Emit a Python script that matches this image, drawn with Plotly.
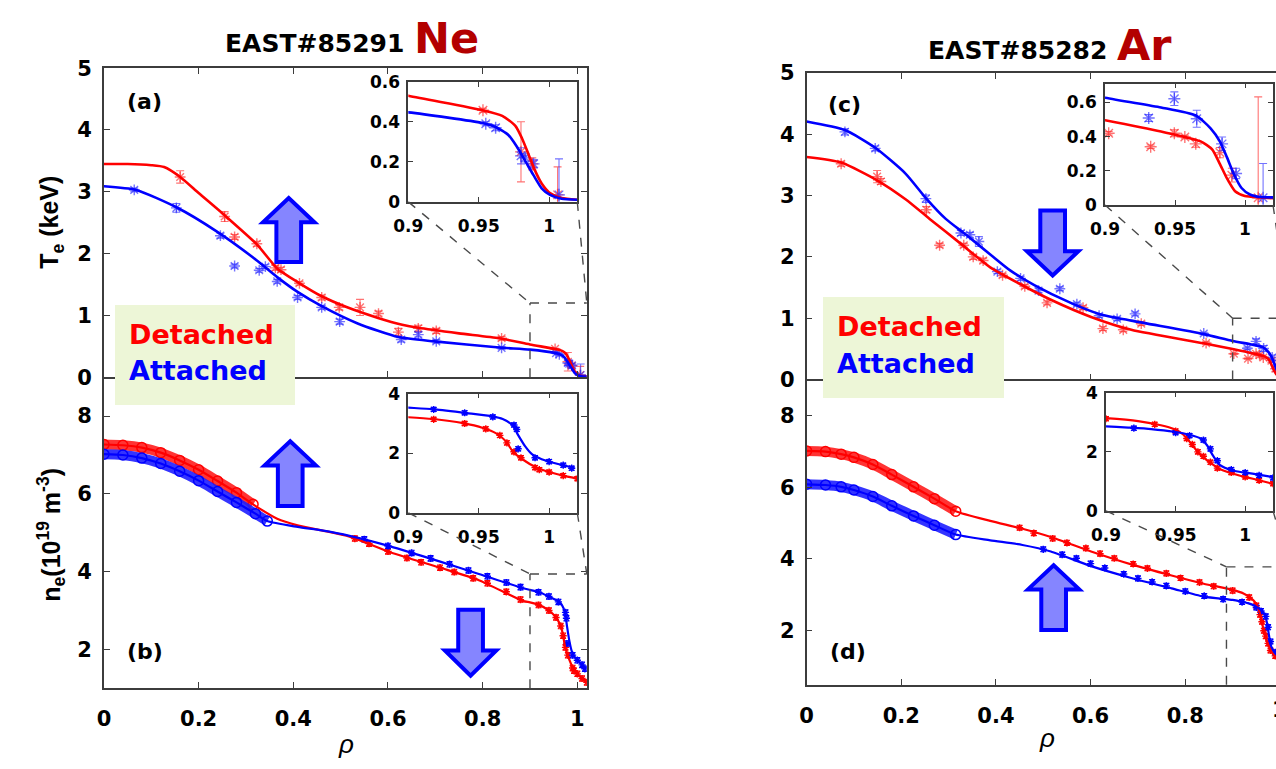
import plotly.graph_objects as go

# ---------------------------------------------------------------------------
# Profile data (rho = normalised minor radius)
# ---------------------------------------------------------------------------
# EAST#85291 (Ne seeding) -- electron temperature, keV
te_ne_fit_det_rho = [0, 0.05, 0.1, 0.127, 0.161, 0.2, 0.255, 0.323, 0.366, 0.409, 0.46, 0.511, 0.579, 0.63,
                     0.664, 0.75, 0.835, 0.9, 0.9526, 0.9667, 0.976, 0.9807, 0.9854, 0.99, 0.9947, 1.0006,
                     1.0088, 1.02]
te_ne_fit_det = [3.45, 3.45, 3.43, 3.40, 3.24, 2.98, 2.62, 2.15, 1.76, 1.54, 1.31, 1.14, 0.96, 0.85,
                 0.80, 0.71, 0.63, 0.53, 0.458, 0.43, 0.38, 0.318, 0.237, 0.156, 0.092, 0.044, 0.019, 0.011]
te_ne_fit_att_rho = [0, 0.068, 0.153, 0.238, 0.323, 0.366, 0.409, 0.46, 0.536, 0.622, 0.698, 0.835, 0.9,
                     0.9526, 0.962, 0.971, 0.977, 0.983, 0.989, 0.9947, 1.0006, 1.0088, 1.02]
te_ne_fit_att = [3.09, 3.03, 2.75, 2.36, 1.89, 1.62, 1.38, 1.15, 0.87, 0.65, 0.58, 0.48, 0.447, 0.394,
                 0.374, 0.334, 0.277, 0.205, 0.132, 0.068, 0.035, 0.016, 0.011]
te_ne_det_rho = [0.161, 0.255, 0.276, 0.323, 0.362, 0.374, 0.413, 0.46, 0.497, 0.541, 0.58, 0.622, 0.664,
                 0.702, 0.84, 0.953, 0.98, 0.988, 1.006]
te_ne_det = [3.24, 2.60, 2.27, 2.16, 1.77, 1.74, 1.52, 1.29, 1.13, 1.13, 1.03, 0.73, 0.79, 0.75, 0.63,
             0.458, 0.25, 0.19, 0.035]
te_ne_det_err = [0.10, 0.08, 0.04, 0.04, 0.04, 0.04, 0.03, 0.04, 0.04, 0.13, 0.04, 0.06, 0.05, 0.04,
                 0.03, 0.01, 0.15, 0.03, 0.14]
te_ne_att_rho = [0.064, 0.153, 0.246, 0.276, 0.328, 0.341, 0.366, 0.409, 0.46, 0.498, 0.628, 0.664, 0.702,
                 0.84, 0.955, 0.962, 0.98, 0.983, 0.989, 1.007]
te_ne_att = [3.03, 2.74, 2.29, 1.80, 1.73, 1.79, 1.55, 1.29, 1.13, 0.90, 0.61, 0.69, 0.58, 0.475, 0.39,
             0.37, 0.23, 0.22, 0.19, 0.035]
te_ne_att_err = [0.03, 0.07, 0.04, 0.03, 0.03, 0.03, 0.03, 0.03, 0.03, 0.04, 0.04, 0.04, 0.03, 0.02,
                 0.01, 0.015, 0.04, 0.02, 0.02, 0.18]

# EAST#85291 (Ne seeding) -- electron density, 1e19 m^-3
ne_ne_core_rho = [0, 0.04, 0.08, 0.12, 0.16, 0.2, 0.24, 0.28, 0.315]
ne_ne_core_det = [7.27, 7.25, 7.19, 7.06, 6.86, 6.62, 6.33, 6.03, 5.73]
ne_ne_core_att_rho = [0, 0.04, 0.08, 0.12, 0.16, 0.2, 0.24, 0.28, 0.32, 0.345]
ne_ne_core_att = [7.02, 7.00, 6.92, 6.78, 6.58, 6.34, 6.06, 5.78, 5.49, 5.30]
ne_ne_fit_det_rho = [0, 0.04, 0.08, 0.12, 0.16, 0.2, 0.24, 0.28, 0.315, 0.366, 0.409, 0.46, 0.519, 0.605,
                     0.707, 0.792, 0.886, 0.9, 0.9176, 0.9389, 0.953, 0.9624, 0.9694, 0.974, 0.981,
                     0.9906, 1.0, 1.0093, 1.0199]
ne_ne_fit_det = [7.27, 7.25, 7.19, 7.06, 6.86, 6.62, 6.33, 6.03, 5.73, 5.36, 5.19, 5.06, 4.90, 4.50,
                 4.11, 3.78, 3.24, 3.21, 3.15, 3.01, 2.85, 2.67, 2.40, 2.07, 1.80, 1.53, 1.37, 1.26, 1.15]
ne_ne_fit_att_rho = [0, 0.04, 0.08, 0.12, 0.16, 0.2, 0.24, 0.28, 0.32, 0.345, 0.409, 0.46, 0.519, 0.605,
                     0.707, 0.792, 0.886, 0.9, 0.9176, 0.941, 0.9597, 0.967, 0.974, 0.978, 0.983, 0.988,
                     0.9947, 1.0063, 1.018]
ne_ne_fit_att = [7.02, 7.00, 6.92, 6.78, 6.58, 6.34, 6.06, 5.78, 5.49, 5.30, 5.15, 5.06, 4.92, 4.65,
                 4.27, 3.94, 3.57, 3.53, 3.48, 3.35, 3.24, 3.15, 2.94, 2.61, 2.23, 1.96, 1.80, 1.64, 1.51]
ne_ne_det_rho = [0.53, 0.56, 0.6, 0.64, 0.67, 0.71, 0.74, 0.78, 0.81, 0.85, 0.88, 0.918, 0.94, 0.955,
                 0.965, 0.97, 0.975, 0.98, 0.99, 0.993, 1.0, 1.01, 1.02]
ne_ne_det = [4.85, 4.72, 4.52, 4.35, 4.24, 4.10, 3.99, 3.83, 3.70, 3.48, 3.28, 3.14, 3.00, 2.82, 2.60,
             2.35, 2.05, 1.85, 1.52, 1.45, 1.37, 1.25, 1.15]
ne_ne_att_rho = [0.55, 0.6, 0.65, 0.69, 0.73, 0.77, 0.81, 0.85, 0.88, 0.918, 0.94, 0.96, 0.975, 0.977,
                 0.978, 0.99, 1.0, 1.01, 1.016]
ne_ne_att = [4.83, 4.66, 4.48, 4.34, 4.19, 4.03, 3.88, 3.72, 3.60, 3.47, 3.36, 3.22, 2.95, 2.80, 2.15,
             1.85, 1.72, 1.60, 1.50]

# EAST#85282 (Ar seeding) -- electron temperature, keV
te_ar_fit_det_rho = [0, 0.073, 0.149, 0.209, 0.26, 0.328, 0.388, 0.448, 0.516, 0.601, 0.686, 0.839, 0.9,
                     0.94, 0.9683, 0.9765, 0.982, 0.9871, 0.9929, 0.9999, 1.011, 1.02]
te_ar_fit_det = [3.63, 3.54, 3.25, 2.94, 2.62, 2.20, 1.83, 1.57, 1.30, 1.02, 0.81, 0.59, 0.496, 0.43,
                 0.373, 0.326, 0.241, 0.156, 0.081, 0.053, 0.045, 0.04]
te_ar_fit_att_rho = [0, 0.081, 0.145, 0.209, 0.252, 0.294, 0.337, 0.388, 0.43, 0.481, 0.558, 0.618, 0.686,
                     0.839, 0.9, 0.94, 0.9648, 0.9754, 0.982, 0.9871, 0.9918, 0.9975, 1.0035, 1.011, 1.02]
te_ar_fit_att = [4.21, 4.07, 3.78, 3.36, 2.96, 2.62, 2.36, 2.04, 1.78, 1.54, 1.25, 1.07, 0.96, 0.74,
                 0.628, 0.571, 0.524, 0.449, 0.373, 0.279, 0.185, 0.10, 0.062, 0.047, 0.045]
te_ar_det_rho = [0.073, 0.149, 0.157, 0.253, 0.281, 0.332, 0.352, 0.373, 0.414, 0.461, 0.508, 0.584,
                 0.626, 0.669, 0.707, 0.844, 0.9026, 0.9326, 0.9495, 0.957, 0.9648, 0.982, 0.9906, 1.0094]
te_ar_det = [3.52, 3.31, 3.23, 2.77, 2.19, 2.19, 2.00, 1.94, 1.70, 1.52, 1.25, 1.17, 0.83, 0.81, 0.91,
             0.594, 0.42, 0.341, 0.42, 0.398, 0.358, 0.307, 0.175, 0.043]
te_ar_det_err = [0.04, 0.10, 0.05, 0.05, 0.03, 0.03, 0.04, 0.04, 0.03, 0.03, 0.03, 0.03, 0.03, 0.03,
                 0.03, 0.02, 0.01, 0.01, 0.02, 0.01, 0.02, 0.03, 0.04, 0.59]
te_ar_att_rho = [0.081, 0.145, 0.252, 0.326, 0.345, 0.364, 0.403, 0.452, 0.49, 0.535, 0.571, 0.618,
                 0.656, 0.694, 0.839, 0.9312, 0.9495, 0.9655, 0.9836, 0.9936, 1.0129]
te_ar_att = [4.04, 3.77, 2.95, 2.39, 2.36, 2.25, 1.76, 1.65, 1.45, 1.48, 1.23, 1.04, 0.99, 1.07, 0.75,
             0.509, 0.622, 0.505, 0.358, 0.185, 0.043]
te_ar_att_err = [0.05, 0.04, 0.06, 0.04, 0.04, 0.08, 0.03, 0.03, 0.03, 0.03, 0.03, 0.03, 0.03, 0.03,
                 0.02, 0.02, 0.04, 0.05, 0.04, 0.03, 0.20]

# EAST#85282 (Ar seeding) -- electron density, 1e19 m^-3
ne_ar_core_rho = [0, 0.04, 0.073, 0.1, 0.14, 0.18, 0.226, 0.27, 0.315]
ne_ar_core_det = [7.01, 6.99, 6.92, 6.83, 6.63, 6.35, 6.01, 5.68, 5.33]
ne_ar_core_att = [6.08, 6.06, 6.01, 5.92, 5.74, 5.48, 5.20, 4.94, 4.68]
ne_ar_fit_det_rho = [0, 0.04, 0.073, 0.1, 0.14, 0.18, 0.226, 0.27, 0.315, 0.388, 0.456, 0.516, 0.601,
                     0.686, 0.771, 0.839, 0.9, 0.923, 0.9394, 0.9488, 0.9559, 0.9618, 0.9676, 0.9746,
                     0.9817, 0.9958, 1.0099, 1.019]
ne_ar_fit_det = [7.01, 6.99, 6.92, 6.83, 6.63, 6.35, 6.01, 5.68, 5.33, 5.06, 4.84, 4.61, 4.21, 3.85,
                 3.54, 3.31, 3.14, 3.04, 2.90, 2.77, 2.57, 2.24, 1.91, 1.64, 1.42, 1.20, 1.04, 0.93]
ne_ar_fit_att_rho = [0, 0.04, 0.073, 0.1, 0.14, 0.18, 0.226, 0.27, 0.315, 0.388, 0.456, 0.516, 0.601,
                     0.686, 0.771, 0.839, 0.9, 0.916, 0.9324, 0.9488, 0.9606, 0.9676, 0.9723, 0.977,
                     0.9817, 0.9911, 1.0052, 1.019]
ne_ar_fit_att = [6.08, 6.06, 6.01, 5.92, 5.74, 5.48, 5.20, 4.94, 4.68, 4.52, 4.39, 4.21, 3.80, 3.47,
                 3.18, 2.95, 2.86, 2.82, 2.77, 2.68, 2.57, 2.46, 2.24, 1.86, 1.56, 1.37, 1.26, 1.15]
ne_ar_det_rho = [0.45, 0.48, 0.52, 0.55, 0.59, 0.62, 0.65, 0.69, 0.72, 0.76, 0.79, 0.83, 0.86, 0.9,
                 0.935, 0.95, 0.958, 0.962, 0.966, 0.97, 0.975, 0.98, 0.99, 1.0, 1.01, 1.02]
ne_ar_det = [4.87, 4.72, 4.57, 4.45, 4.30, 4.15, 4.02, 3.86, 3.74, 3.60, 3.47, 3.35, 3.24, 3.12, 2.93,
             2.70, 2.45, 2.25, 2.00, 1.85, 1.65, 1.45, 1.30, 1.15, 1.03, 0.92]
ne_ar_att_rho = [0.5, 0.54, 0.57, 0.6, 0.63, 0.67, 0.7, 0.73, 0.76, 0.8, 0.84, 0.88, 0.92, 0.95, 0.96,
                 0.97, 0.975, 0.98, 0.99, 1.0, 1.01, 1.02]
ne_ar_att = [4.27, 4.12, 4.02, 3.87, 3.75, 3.58, 3.46, 3.36, 3.25, 3.10, 2.97, 2.88, 2.80, 2.65, 2.55,
             2.40, 2.10, 1.70, 1.40, 1.30, 1.20, 1.12]

# ---------------------------------------------------------------------------
# Page geometry (pixels of a 1276 x 769 canvas)
# ---------------------------------------------------------------------------
W, H = 1276, 769
RED, BLUE = "#ff0000", "#0000ff"
RED_PT, BLUE_PT = "rgba(255,40,40,0.65)", "rgba(40,40,255,0.65)"
AXC = "#3c3c3c"
BOLD = dict(family="DejaVu Sans", weight="bold", color="black")

# panel boxes: (left, right, top, bottom) in px, and their axis ranges
PANELS = {
    "a": dict(box=(90, 578.6, 58, 377), xr=[0, 1.02], yr=[0, 5]),
    "b": dict(box=(90, 578.6, 377, 698), xr=[0, 1.02], yr=[1, 9]),
    "c": dict(box=(801, 1276, 63, 379.3), xr=[0, 475 / 479], yr=[0, 5]),
    "d": dict(box=(801, 1276, 379.3, 694.3), xr=[0, 475 / 479], yr=[0.5, 9]),
    "ia": dict(box=(398, 569, 72, 196), xr=[0.9, 1.02], yr=[0, 0.6]),
    "ib": dict(box=(398, 569, 394, 517), xr=[0.9, 1.02], yr=[0, 4]),
    "ic": dict(box=(1103, 1273, 74, 199.3), xr=[0.9, 1.02], yr=[0, 0.71]),
    "id": dict(box=(1104, 1273, 393, 515), xr=[0.9, 1.02], yr=[0, 4]),
}
AXIS_ID = {"a": 1, "b": 2, "c": 3, "d": 4, "ia": 5, "ib": 6, "ic": 7, "id": 8}


def px_to_paper(px, py):
    return px / W, 1 - py / H


def data_to_paper(key, xv, yv):
    l, r, t, b = PANELS[key]["box"]
    xr, yr = PANELS[key]["xr"], PANELS[key]["yr"]
    px = l + (xv - xr[0]) / (xr[1] - xr[0]) * (r - l)
    py = b - (yv - yr[0]) / (yr[1] - yr[0]) * (b - t)
    return px_to_paper(px, py)


def refs(key):
    i = AXIS_ID[key]
    return ("x" if i == 1 else f"x{i}"), ("y" if i == 1 else f"y{i}")


fig = go.Figure()


def add_fit(key, rho, val, color, width=2.6):
    xa, ya = refs(key)
    fig.add_trace(go.Scatter(x=rho, y=val, mode="lines", xaxis=xa, yaxis=ya,
                             line=dict(color=color, width=width, shape="spline", smoothing=0.6),
                             hoverinfo="skip", showlegend=False))


def add_points(key, rho, val, err, color, size=9, cap=4):
    xa, ya = refs(key)
    fig.add_trace(go.Scatter(x=rho, y=val, mode="markers", xaxis=xa, yaxis=ya,
                             marker=dict(symbol="asterisk-open", size=size, color=color,
                                         line=dict(color=color, width=1.4)),
                             error_y=dict(type="data", array=err, visible=True, color=color,
                                          thickness=1.1, width=cap),
                             hoverinfo="skip", showlegend=False))


def add_core(key, rho, val, color, band):
    xa, ya = refs(key)
    fig.add_trace(go.Scatter(x=rho, y=val, mode="lines+markers", xaxis=xa, yaxis=ya,
                             line=dict(color=band, width=10, shape="spline"),
                             marker=dict(symbol="circle-open", size=10, color=color,
                                         line=dict(color=color, width=1.5)),
                             hoverinfo="skip", showlegend=False))


# Te panels and their edge insets
for key in ("a", "ia"):
    size = 9 if key == "a" else 10
    add_points(key, te_ne_det_rho, te_ne_det, te_ne_det_err, RED_PT, size)
    add_points(key, te_ne_att_rho, te_ne_att, te_ne_att_err, BLUE_PT, size)
    add_fit(key, te_ne_fit_det_rho, te_ne_fit_det, RED)
    add_fit(key, te_ne_fit_att_rho, te_ne_fit_att, BLUE)

for key in ("c", "ic"):
    size = 9 if key == "c" else 10
    add_points(key, te_ar_det_rho, te_ar_det, te_ar_det_err, RED_PT, size)
    add_points(key, te_ar_att_rho, te_ar_att, te_ar_att_err, BLUE_PT, size)
    add_fit(key, te_ar_fit_det_rho, te_ar_fit_det, RED)
    add_fit(key, te_ar_fit_att_rho, te_ar_fit_att, BLUE)

# density panels and insets
ne_err = 0.07
for key in ("b", "ib"):
    if key == "b":
        add_core(key, ne_ne_core_rho, ne_ne_core_det, RED, "rgba(255,30,30,0.9)")
        add_core(key, ne_ne_core_att_rho, ne_ne_core_att, BLUE, "rgba(30,30,255,0.9)")
    add_points(key, ne_ne_det_rho, ne_ne_det, [ne_err] * len(ne_ne_det), RED, 6, 3)
    add_points(key, ne_ne_att_rho, ne_ne_att, [ne_err] * len(ne_ne_att), BLUE, 6, 3)
    add_fit(key, ne_ne_fit_det_rho, ne_ne_fit_det, RED, 2.2)
    add_fit(key, ne_ne_fit_att_rho, ne_ne_fit_att, BLUE, 2.2)

for key in ("d", "id"):
    if key == "d":
        add_core(key, ne_ar_core_rho, ne_ar_core_det, RED, "rgba(255,30,30,0.9)")
        add_core(key, ne_ar_core_rho, ne_ar_core_att, BLUE, "rgba(30,30,255,0.9)")
    add_points(key, ne_ar_det_rho, ne_ar_det, [ne_err] * len(ne_ar_det), RED, 6, 3)
    add_points(key, ne_ar_att_rho, ne_ar_att, [ne_err] * len(ne_ar_att), BLUE, 6, 3)
    add_fit(key, ne_ar_fit_det_rho, ne_ar_fit_det, RED, 2.2)
    add_fit(key, ne_ar_fit_att_rho, ne_ar_fit_att, BLUE, 2.2)

# ---------------------------------------------------------------------------
# Axes
# ---------------------------------------------------------------------------
main_x_ticks = [0, 0.2, 0.4, 0.6, 0.8, 1]
main_x_text = ["0", "0.2", "0.4", "0.6", "0.8", "1"]
te_ticks = [0, 1, 2, 3, 4, 5]
ne_ticks = [2, 4, 6, 8]
ins_x_ticks = [0.9, 0.95, 1]
ins_x_text = ["0.9", "0.95", "1"]
ins_te_ticks = [0, 0.2, 0.4, 0.6]
ins_ne_ticks = [0, 2, 4]


def axis_common(size, ticklen=6, mirror="ticks"):
    return dict(showline=True, linecolor=AXC, linewidth=1.5, mirror=mirror, ticks="inside",
                ticklen=ticklen, tickwidth=1.4, tickcolor=AXC, showgrid=False, zeroline=False,
                tickfont=dict(size=size, **BOLD), fixedrange=True)


layout = {}
y_ticks = {"a": te_ticks, "b": ne_ticks, "c": te_ticks, "d": ne_ticks,
           "ia": ins_te_ticks, "ib": ins_ne_ticks, "ic": ins_te_ticks, "id": ins_ne_ticks}
for key, p in PANELS.items():
    i = AXIS_ID[key]
    l, r, t, b = p["box"]
    inset = key.startswith("i")
    size = 17 if inset else 21
    xname = "xaxis" if i == 1 else f"xaxis{i}"
    yname = "yaxis" if i == 1 else f"yaxis{i}"
    # lower panels share their top edge with the panel above: draw that edge only once
    x_mirror = False if key in ("b", "d") else "ticks"
    xa = axis_common(size, 5 if inset else 6, mirror=x_mirror)
    xa.update(domain=[l / W, r / W], range=p["xr"], anchor="y" if i == 1 else f"y{i}",
              tickvals=ins_x_ticks if inset else main_x_ticks,
              ticktext=ins_x_text if inset else main_x_text,
              ticklabelstandoff=8 if inset else 11)
    if key in ("a", "c"):
        xa["showticklabels"] = False
    ya = axis_common(size, 5 if inset else 6,
                     mirror=False if key in ("c", "d") else "ticks")
    ya.update(domain=[1 - b / H, 1 - t / H], range=p["yr"], anchor="x" if i == 1 else f"x{i}",
              tickvals=y_ticks[key], ticklabelstandoff=3 if inset else 6)
    layout[xname] = xa
    layout[yname] = ya

shapes = []

# white backing for the insets so the main curves do not show through
for key in ("ia", "ib", "ic", "id"):
    xa, ya = refs(key)
    p = PANELS[key]
    shapes.append(dict(type="rect", xref=xa, yref=ya, x0=p["xr"][0], x1=p["xr"][1],
                       y0=p["yr"][0], y1=p["yr"][1], fillcolor="white",
                       line=dict(width=0), layer="below"))

# zoom window markers linking each main panel to its inset
zoom_corner = {"a": (0.9, 1.2, "ia"), "b": (0.9, 3.94, "ib"), "c": (0.9, 1.0, "ic"), "d": (0.887, 3.78, "id")}
DASH = dict(color="#4a4a4a", width=1.4, dash="dash")
for key, (zx, zy, ins) in zoom_corner.items():
    p = PANELS[key]
    x_edge = 1.02
    lo = p["yr"][0]
    (x0, y0), (x1, y1) = data_to_paper(key, zx, lo), data_to_paper(key, zx, zy)
    shapes.append(dict(type="line", xref="paper", yref="paper", x0=x0, y0=y0, x1=x1, y1=y1,
                       line=DASH, layer="above"))
    (x2, y2) = data_to_paper(key, x_edge, zy)
    shapes.append(dict(type="line", xref="paper", yref="paper", x0=x1, y0=y1, x1=x2, y1=y2,
                       line=DASH, layer="above"))
    il, ir, it, ib = PANELS[ins]["box"]
    bl = px_to_paper(il, ib)
    br = px_to_paper(ir, ib)
    shapes.append(dict(type="line", xref="paper", yref="paper", x0=bl[0], y0=bl[1], x1=x1, y1=y1,
                       line=DASH, layer="above"))
    shapes.append(dict(type="line", xref="paper", yref="paper", x0=br[0], y0=br[1], x1=x2, y1=y2,
                       line=DASH, layer="above"))


# block arrows: (centre x, tail y, tip y) in px
def block_arrow(cx, y_tail, y_tip, shaft=12.5, head=26, head_len=25):
    s = 1 if y_tip > y_tail else -1
    y_base = y_tip - s * head_len
    pts = [(cx - shaft, y_tail), (cx - shaft, y_base), (cx - head, y_base), (cx, y_tip),
           (cx + head, y_base), (cx + shaft, y_base), (cx + shaft, y_tail)]
    d = "M " + " L ".join(f"{px / W:.5f},{1 - py / H:.5f}" for px, py in pts) + " Z"
    return dict(type="path", xref="paper", yref="paper", path=d, fillcolor="#8585ff",
                line=dict(color="#0000ff", width=4), layer="above")


shapes += [
    block_arrow(277, 258, 192),
    block_arrow(278.5, 510, 443),
    block_arrow(461, 617, 685, head_len=26),
    block_arrow(1050, 205, 272, head_len=25),
    block_arrow(1051, 638, 571),
]

annotations = []

# legend boxes (drawn as annotation boxes so they sit above the axis lines)
for (l, t, r, b) in ((101, 302, 281, 402), (818, 294, 999, 395)):
    x0, y1 = px_to_paper(l, t)
    annotations.append(dict(x=x0, y=y1, xref="paper", yref="paper", xanchor="left", yanchor="top",
                            text=" ", showarrow=False, width=r - l, height=b - t,
                            bgcolor="#edf6d7", borderpad=0, borderwidth=0,
                            font=dict(size=10)))


def text(px, py, s, size, color="black", xanchor="left", angle=0, family="DejaVu Sans",
         weight="bold", italic=False):
    x, y = px_to_paper(px, py)
    annotations.append(dict(x=x, y=y, xref="paper", yref="paper", text=s, showarrow=False,
                            xanchor=xanchor, yanchor="middle", textangle=angle,
                            font=dict(family=family, size=size, color=color, weight=weight,
                                      style="italic" if italic else "normal")))


# titles
text(210, 33, "EAST#85291", 25)
text(402, 27, "Ne", 43, color="#b30000")
text(922, 40, "EAST#85282", 25)
text(1113, 34, "Ar", 43, color="#b30000")

# panel tags
text(111, 92, "(a)", 22)
text(111, 660, "(b)", 22)
text(821, 95, "(c)", 22)
text(823, 660, "(d)", 22)

# legend text
text(113, 333, "Detached", 27, color=RED)
text(113, 370, "Attached", 27, color=BLUE)
text(830, 325, "Detached", 27, color=RED)
text(830, 363, "Attached", 27, color=BLUE)

# axis titles
text(37, 217, "T<sub>e</sub> (keV)", 25, xanchor="center", angle=-90, family="Liberation Sans")
text(37, 540, "n<sub>e</sub>(10<sup>19</sup> m<sup>-3</sup>)", 25, xanchor="center", angle=-90,
     family="Liberation Sans")
text(335, 756, "ρ", 26, xanchor="center", family="Liberation Sans", weight="normal", italic=True)
text(1044, 749, "ρ", 26, xanchor="center", family="Liberation Sans", weight="normal", italic=True)
# tick label at rho = 1 on the right-hand panel, cut by the page edge
text(1280, 720, "1", 21, xanchor="center")

fig.update_layout(
    width=W, height=H, margin=dict(l=0, r=0, t=0, b=0),
    paper_bgcolor="white", plot_bgcolor="rgba(0,0,0,0)",
    showlegend=False, shapes=shapes, annotations=annotations, **layout,
)

fig.write_html("out.html", config=dict(displayModeBar=False))
